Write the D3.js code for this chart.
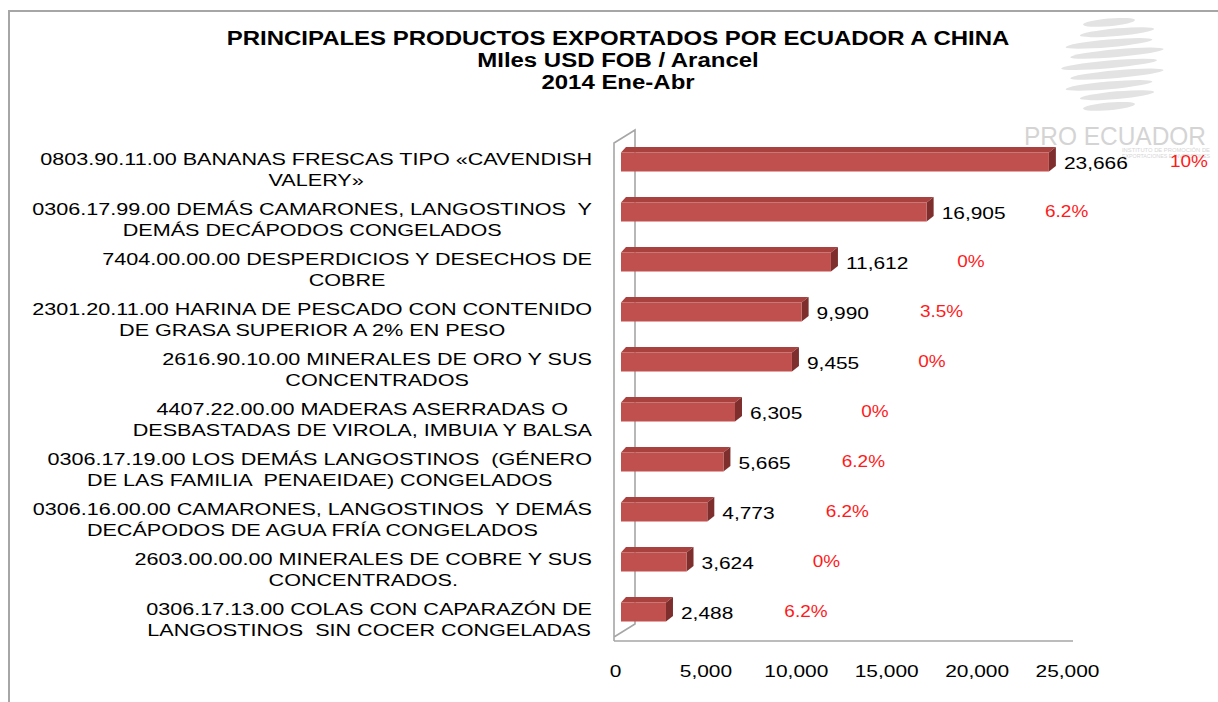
<!DOCTYPE html>
<html>
<head>
<meta charset="utf-8">
<script src="https://cdn.jsdelivr.net/npm/d3@7"></script>
<style>
	body { margin: 0; background: #fff; }
	svg text { font-family: "Liberation Sans", Arial, sans-serif; white-space: pre; }
</style>
</head>
<body>
<svg id="chart" width="1218" height="702"></svg>
<script>

//Data.
var titulo = ["PRINCIPALES PRODUCTOS EXPORTADOS POR ECUADOR A CHINA", "MIles USD FOB / Arancel", "2014 Ene-Abr"];

var productos = [
	["0803.90.11.00 BANANAS FRESCAS TIPO «CAVENDISH", "VALERY»"],
	["0306.17.99.00 DEMÁS CAMARONES, LANGOSTINOS  Y", "DEMÁS DECÁPODOS CONGELADOS"],
	["7404.00.00.00 DESPERDICIOS Y DESECHOS DE", "COBRE"],
	["2301.20.11.00 HARINA DE PESCADO CON CONTENIDO", "DE GRASA SUPERIOR A 2% EN PESO"],
	["2616.90.10.00 MINERALES DE ORO Y SUS", "CONCENTRADOS"],
	["4407.22.00.00 MADERAS ASERRADAS O", "DESBASTADAS DE VIROLA, IMBUIA Y BALSA"],
	["0306.17.19.00 LOS DEMÁS LANGOSTINOS  (GÉNERO", "DE LAS FAMILIA  PENAEIDAE) CONGELADOS"],
	["0306.16.00.00 CAMARONES, LANGOSTINOS  Y DEMÁS", "DECÁPODOS DE AGUA FRÍA CONGELADOS"],
	["2603.00.00.00 MINERALES DE COBRE Y SUS", "CONCENTRADOS."],
	["0306.17.13.00 COLAS CON CAPARAZÓN DE", "LANGOSTINOS  SIN COCER CONGELADAS"]
];

var valores = [23666, 16905, 11612, 9990, 9455, 6305, 5665, 4773, 3624, 2488];

var aranceles = ["10%", "6.2%", "0%", "3.5%", "0%", "0%", "6.2%", "6.2%", "0%", "6.2%"];

var ticks = [0, 5000, 10000, 15000, 20000, 25000];

//Layout.
var SX = 1.23;          //the picture is stretched sideways
var SXcat = 1.27;       //category labels a little wider still
var dx = 7, dy = 5.5;   //3D depth of the bars
var barH = 19;
var gray = "#a6a6a6";

var svg = d3.select("#chart");

var x = d3.scaleLinear()
	.domain([0, 25000])
	.range([621, 1073]);

var y = d3.scaleBand()
	.domain(d3.range(valores.length))
	.range([137, 637]);

function yc(i) { return y(i) + y.bandwidth() / 2; }

//----------------------FRAME-------------------------------------------
svg.append("path")
	.attr("d", "M9,702V11H1218")
	.attr("fill", "none")
	.attr("stroke", gray)
	.attr("stroke-width", 2);

//----------------------LOGO (watermark)--------------------------------
var logo = svg.append("g");
for (var k = 0; k < 9; k++) {
	var yy = 22 + k * 10.5;
	var t = (yy - 64) / 50;
	logo.append("ellipse")
		.attr("cx", 1113 + (k % 2 ? 4 : -4))
		.attr("cy", yy)
		.attr("rx", 48 * Math.sqrt(1 - t * t))
		.attr("ry", 3.8)
		.attr("transform", "rotate(-5," + 1113 + "," + yy + ")")
		.attr("fill", "#e3e3e3");
}
logo.append("text")
	.attr("x", 1115)
	.attr("y", 145)
	.attr("text-anchor", "middle")
	.attr("font-size", "26px")
	.attr("textLength", 182)
	.attr("lengthAdjust", "spacingAndGlyphs")
	.attr("fill", "#d4d4d4")
	.text("PRO ECUADOR");
logo.append("text")
	.attr("x", 1166).attr("y", 152)
	.attr("text-anchor", "middle")
	.attr("font-size", "5.5px")
	.attr("textLength", 88)
	.attr("lengthAdjust", "spacingAndGlyphs")
	.attr("fill", "#d6d6d6")
	.text("INSTITUTO DE PROMOCIÓN DE");
logo.append("text")
	.attr("x", 1166).attr("y", 158)
	.attr("text-anchor", "middle")
	.attr("font-size", "5.5px")
	.attr("textLength", 88)
	.attr("lengthAdjust", "spacingAndGlyphs")
	.attr("fill", "#d6d6d6")
	.text("EXPORTACIONES E INVERSIONES");

//----------------------TITLE-------------------------------------------
svg.selectAll("text.titulo")
	.data(titulo)
	.enter().append("text")
	.attr("class", "titulo")
	.attr("transform", function(d, i) { return "translate(618," + (45 + i * 22) + ") scale(" + SX + ",1)"; })
	.attr("text-anchor", "middle")
	.attr("font-weight", "bold")
	.attr("font-size", "19.5px")
	.attr("fill", "#000")
	.text(function(d) { return d; });

//----------------------WALLS-------------------------------------------
var x0 = x(0);
svg.append("path")
	.attr("d", "M" + (x0 - 7) + ",641V143L" + (x0 + 14) + ",130V624L" + (x0 - 7) + ",637"
		+ "M" + (x0 - 7) + ",641H" + x(25000))
	.attr("fill", "none")
	.attr("stroke", gray)
	.attr("stroke-width", 1.6);

//----------------------BARS--------------------------------------------
var bars = svg.selectAll("g.bar")
	.data(valores)
	.enter().append("g")
	.attr("class", "bar");

//top face
bars.append("path")
	.attr("d", function(d, i) {
		var top = yc(i) - barH / 2;
		return "M" + x0 + "," + top + "L" + x(d) + "," + top + "L" + (x(d) + dx) + "," + (top - dy)
			+ "L" + (x0 + dx - 2) + "," + (top - dy) + "Z";
	})
	.attr("fill", "#a9423f");

//side face
bars.append("path")
	.attr("d", function(d, i) {
		var top = yc(i) - barH / 2;
		return "M" + x(d) + "," + top + "L" + (x(d) + dx) + "," + (top - dy) + "L" + (x(d) + dx) + "," + (top + barH - dy)
			+ "L" + x(d) + "," + (top + barH) + "Z";
	})
	.attr("fill", "#7e2f2d");

//front face
bars.append("rect")
	.attr("x", x0)
	.attr("y", function(d, i) { return yc(i) - barH / 2; })
	.attr("width", function(d) { return x(d) - x0; })
	.attr("height", barH)
	.attr("fill", "#c0504d");

//value labels
svg.selectAll("text.valor")
	.data(valores)
	.enter().append("text")
	.attr("class", "valor")
	.attr("transform", function(d, i) { return "translate(" + (x(d) + dx + 8) + "," + (yc(i) + 7) + ") scale(" + SX + ",1)"; })
	.attr("font-size", "17px")
	.attr("fill", "#000")
	.text(d3.format(","));

//tariff labels
svg.selectAll("text.arancel")
	.data(aranceles)
	.enter().append("text")
	.attr("class", "arancel")
	.attr("transform", function(d, i) { return "translate(" + (x(valores[i]) + 140) + "," + (yc(i) + 5) + ") scale(1.15,1)"; })
	.attr("text-anchor", "middle")
	.attr("font-size", "16.5px")
	.attr("fill", "#ff1a1a")
	.text(function(d) { return d; });

//----------------------CATEGORY LABELS---------------------------------
productos.forEach(function(lines, i) {
	var g = svg.append("g");
	var maxW = 0;
	lines.forEach(function(line, j) {
		var t = g.append("text")
			.attr("transform", "translate(0," + (yc(i) + 3 + j * 21) + ") scale(" + SXcat + ",1)")
			.attr("text-anchor", "middle")
			.attr("font-size", "17px")
			.attr("fill", "#000")
			.text(line);
		maxW = Math.max(maxW, t.node().getComputedTextLength() * SXcat);
	});
	g.attr("transform", "translate(" + (592 - maxW / 2) + ",0)");
});

//----------------------AXIS--------------------------------------------
var axis = svg.append("g")
	.attr("transform", "translate(-6,641)")
	.call(d3.axisBottom(x)
		.tickValues(ticks)
		.tickFormat(d3.format(","))
		.tickSize(0)
		.tickPadding(24));
axis.select(".domain").remove();
axis.selectAll("text")
	.attr("font-size", "17px")
	.attr("font-family", "Liberation Sans, Arial, sans-serif")
	.attr("fill", "#000")
	.attr("transform", "scale(" + SX + ",1)");

</script>
</body>
</html>
